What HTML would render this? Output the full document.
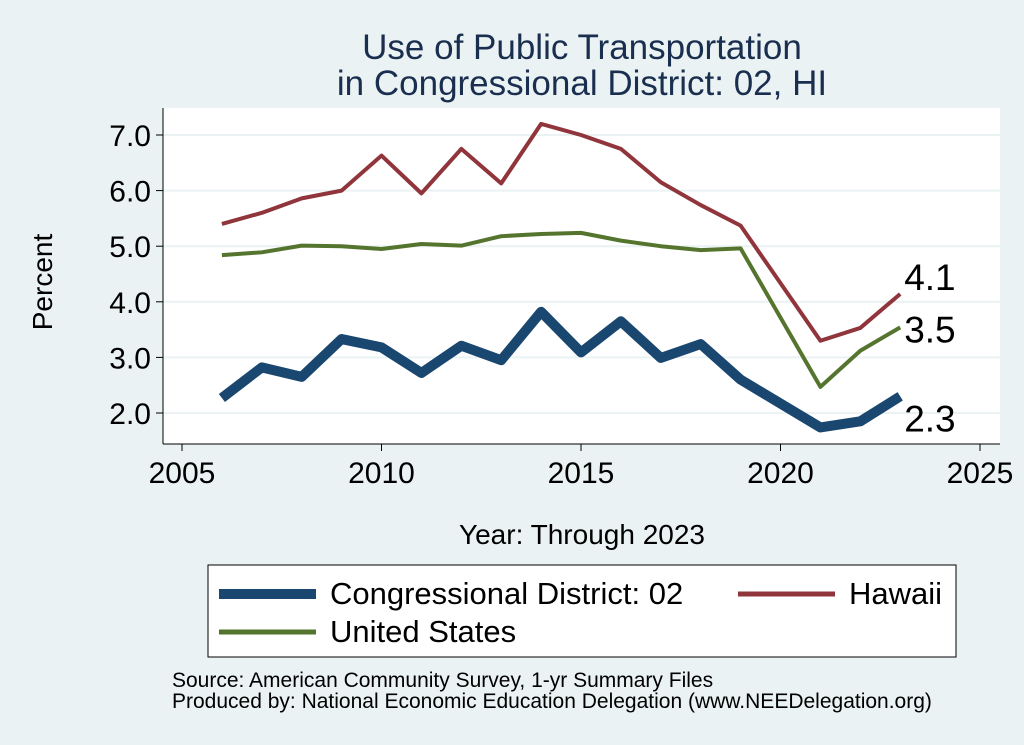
<!DOCTYPE html>
<html><head><meta charset="utf-8"><style>
body{margin:0;background:#eaf2f3;}
svg{display:block;font-family:"Liberation Sans",sans-serif;}
</style></head><body>
<svg id="chart" width="1024" height="745">
<rect x="0" y="0" width="1024" height="745" fill="#eaf2f3"/>
<rect x="163" y="108" width="837" height="336" fill="#ffffff"/>
<text x="582" y="59" font-size="35" fill="#1a2e4f" text-anchor="middle">Use of Public Transportation</text>
<text x="582" y="95" font-size="35" fill="#1a2e4f" text-anchor="middle">in Congressional District: 02, HI</text>
<g id="grid"></g><g id="axes"></g><g id="series"></g>
<text x="52" y="282" font-size="28" text-anchor="middle" transform="rotate(-90 52 282)">Percent</text>
<text x="582" y="544" font-size="28" text-anchor="middle">Year: Through 2023</text>
<g>
<rect x="208" y="565" width="748" height="92" fill="#ffffff" stroke="#000" stroke-width="1"/>
<line x1="219" y1="594" x2="316" y2="594" stroke="#1a476f" stroke-width="10"/>
<text x="330" y="604" font-size="31">Congressional District: 02</text>
<line x1="738" y1="594" x2="835" y2="594" stroke="#90353b" stroke-width="5"/>
<text x="849" y="604" font-size="31">Hawaii</text>
<line x1="219" y1="632" x2="316" y2="632" stroke="#55752f" stroke-width="5"/>
<text x="330" y="642" font-size="31">United States</text>
</g>
<text x="172" y="687" font-size="21">Source: American Community Survey, 1-yr Summary Files</text>
<text x="172" y="708" font-size="21">Produced by: National Economic Education Delegation (www.NEEDelegation.org)</text>
</svg>
<script>
const years=[2006,2007,2008,2009,2010,2011,2012,2013,2014,2015,2016,2017,2018,2019,2021,2022,2023];
const districtVals=[2.27,2.82,2.65,3.33,3.18,2.72,3.21,2.95,3.82,3.09,3.65,2.99,3.24,2.6,1.74,1.85,2.3];
const hawaiiVals=[5.4,5.6,5.86,6.0,6.63,5.95,6.75,6.13,7.2,7.0,6.75,6.15,5.74,5.37,3.3,3.53,4.14];
const usVals=[4.84,4.89,5.01,5.0,4.95,5.04,5.01,5.18,5.22,5.24,5.1,5.0,4.93,4.96,2.47,3.12,3.54];
const yTicks=[2,3,4,5,6,7];
const xTicks=[2005,2010,2015,2020,2025];
const NS="http://www.w3.org/2000/svg";
const xs=v=>182+(v-2005)*(980-182)/20;
const ys=v=>413-(v-2)*(413-135)/5;
function mk(tag,attrs,parent){const e=document.createElementNS(NS,tag);for(const k in attrs)e.setAttribute(k,attrs[k]);parent.appendChild(e);return e;}
const grid=document.getElementById('grid'),axes=document.getElementById('axes'),ser=document.getElementById('series');
yTicks.forEach(t=>{
 const g=mk('line',{x1:163,x2:1000,y1:ys(t),y2:ys(t),stroke:'#eaf2f3','stroke-width':2},grid);
 
 
 const tk=mk('line',{x1:156,x2:163,y1:ys(t),y2:ys(t),stroke:'#000'},axes);
 
 
 const tx=mk('text',{x:151,y:ys(t)+11,'font-size':30,'text-anchor':'end'},axes);
 tx.textContent=t.toFixed(1);
 
 
});
xTicks.forEach(t=>{
 const tk=mk('line',{x1:xs(t),x2:xs(t),y1:444,y2:451,stroke:'#000'},axes);
 
 
 const tx=mk('text',{x:xs(t),y:483,'font-size':30,'text-anchor':'middle'},axes);
 tx.textContent=t;
 
 
});
const ya=mk('line',{x1:163,x2:163,y1:108,y2:444,stroke:'#000'},axes);


const xa=mk('line',{x1:163,x2:1000,y1:444,y2:444,stroke:'#000'},axes);


function line(vals,color,w,name,ly){
 const p=mk('polyline',{points:years.map((y,i)=>xs(y)+','+ys(vals[i])).join(' '),fill:'none',stroke:color,'stroke-width':w,'stroke-linejoin':'round'},ser);
 
 
 const v=vals[vals.length-1];
 const t=mk('text',{x:xs(years[years.length-1])+4,y:ys(v)+ly,'font-size':37},ser);
 t.textContent=v.toFixed(1);
 
 
}
line(usVals,'#55752f',4,'us-line',15);
line(hawaiiVals,'#90353b',4,'hawaii-line',-4);
line(districtVals,'#1a476f',10,'district-line',35);
</script>
</body></html>
